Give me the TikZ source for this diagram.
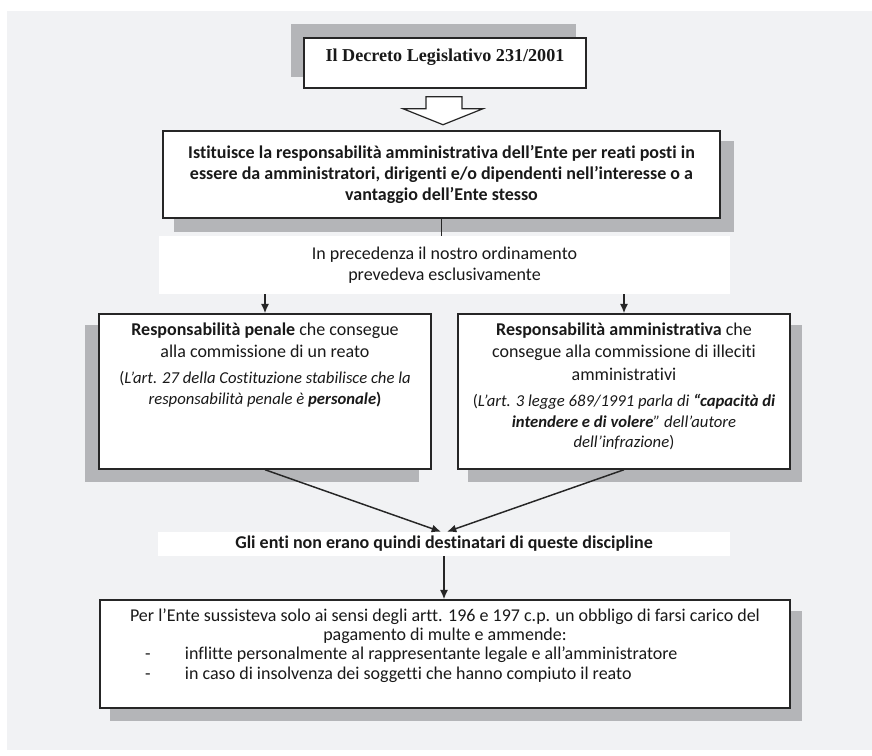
\documentclass[tikz,border=0pt]{standalone}
\usepackage{fontspec}
\setmainfont{Carlito}[Ligatures=NoCommon]
\newfontfamily\titlefont{Liberation Serif}
\usetikzlibrary{arrows.meta,calc,backgrounds}
\definecolor{pagebg}{RGB}{241,242,244}
\definecolor{shadowgray}{RGB}{180,181,184}
\definecolor{inkline}{RGB}{38,38,38}
\tikzset{
  font=\fontsize{13.5}{16}\selectfont,
  panel/.style={
    draw=inkline,
    fill=white,
    line width=1.1pt,
    inner sep=0pt,
    text=black!90
  },
  band/.style={
    fill=white,
    inner sep=0pt,
    align=center,
    text=black!90
  },
  link/.style={draw=inkline, line width=1.1pt},
  arrow/.style={link, -{Latex[length=7pt,width=6pt]}},
  shadowbox/.style={fill=shadowgray},
  hollow/.style={draw=inkline, fill=white, line width=0.9pt, line join=miter}
}

\begin{document}
\begin{tikzpicture}[x=0.75pt,y=-0.75pt]
\useasboundingbox (0,0) rectangle (872,756);

% --- Decree and what it introduces
\node[panel] (title) at (445,63) {\parbox[c][37.5pt][t]{211.5pt}{\centering\vspace*{8.5pt}\titlefont\fontsize{13.6}{16}\selectfont\bfseries Il Decreto Legislativo 231/2001}};
\node[panel, minimum width=417.75pt, minimum height=65.25pt, align=center, font=\fontsize{13.5}{16}\selectfont\bfseries] (istit) at (441.5,174.5) {Istituisce la responsabilità amministrativa dell’Ente per reati posti in\\ essere da amministratori, dirigenti e/o dipendenti nell’interesse o a\\ vantaggio dell’Ente stesso};
\node[band, minimum width=428.25pt, minimum height=43.5pt, font=\fontsize{13.5}{15.75}\selectfont] (prev) at (444.5,265) {In precedenza il nostro ordinamento\\ prevedeva esclusivamente};

% --- The two previous kinds of liability
\node[panel] (penale) at (265,391.5) {\parbox[c][116.25pt][t]{249pt}{\centering\vspace*{6.3pt}\fontsize{13.5}{17}\selectfont\textbf{Responsabilità penale} che consegue\\ alla commissione di un reato\par\vspace{4pt}
\fontsize{12.5}{15.5}\selectfont(\textit{L’art. 27 della Costituzione stabilisce che la\\ responsabilità penale è \textbf{personale}}\textbf{)}\par}};
\node[panel] (ammin) at (624,391.5) {\parbox[c][116.25pt][t]{249pt}{\centering\vspace*{6.3pt}\fontsize{13.5}{17}\selectfont\textbf{Responsabilità amministrativa} che\\ consegue alla commissione di illeciti\\ amministrativi\par\vspace{4pt}
\fontsize{12.5}{15.5}\selectfont(\textit{L’art. 3 legge 689/1991 parla di \textbf{“capacità di\\ intendere e di volere}” dell’autore\\ dell’infrazione})\par}};

% --- Consequence for the entities
\node[band, minimum width=429pt, minimum height=18pt, font=\fontsize{13.5}{16}\selectfont\bfseries] (enti) at (444,544) {Gli enti non erano quindi destinatari di queste discipline};
\node[panel] (ente) at (445,654) {\parbox[c][81pt][t]{517.5pt}{\centering\vspace*{6.3pt}\fontsize{13.5}{14.5}\selectfont Per l’Ente sussisteva solo ai sensi degli artt. 196 e 197 c.p. un obbligo di farsi carico del\\ pagamento di multe e ammende:\par
\raggedright\leftskip=33.75pt
\makebox[30pt][l]{-}inflitte personalmente al rappresentante legale e all’amministratore\\
\makebox[30pt][l]{-}in caso di insolvenza dei soggetti che hanno compiuto il reato\par}};

% --- Connectors
\coordinate (dtip) at ($(title.south)+(-2,36)$);
\draw[hollow] (dtip) -- ++(40,-16) -- ++(-21,0) -- ++(0,-12) -- ++(-36,0) -- ++(0,12) -- ++(-23,0) -- cycle;
\draw[link] (istit.south) -- (istit.south |- prev.north);
\draw[arrow] (prev.south -| penale.north) -- (penale.north);
\draw[arrow] (prev.south -| ammin.north) -- (ammin.north);
\draw[arrow] (penale.south) -- ($(enti.north)+(-3,0)$);
\draw[arrow] (ammin.south) -- ($(enti.north)+(3,0)$);
\draw[arrow] (enti.south) -- (enti.south |- ente.north);

% --- Page and shadows
\begin{scope}[on background layer]
\fill[pagebg] (7,11) rectangle (872,750);
\fill[shadowbox] ($(title.north west)+(-12,-13)$) rectangle ($(title.south east)+(-11,-12)$);
\fill[shadowbox] ($(istit.north west)+(12,11)$) rectangle ($(istit.south east)+(13,13)$);
\fill[shadowbox] ($(penale.north west)+(-13,12)$) rectangle ($(penale.south east)+(-13,12)$);
\fill[shadowbox] ($(ammin.north west)+(11,12)$) rectangle ($(ammin.south east)+(11,12)$);
\fill[shadowbox] ($(ente.north west)+(11,12)$) rectangle ($(ente.south east)+(11,12)$);
\end{scope}

\end{tikzpicture}
\end{document}
